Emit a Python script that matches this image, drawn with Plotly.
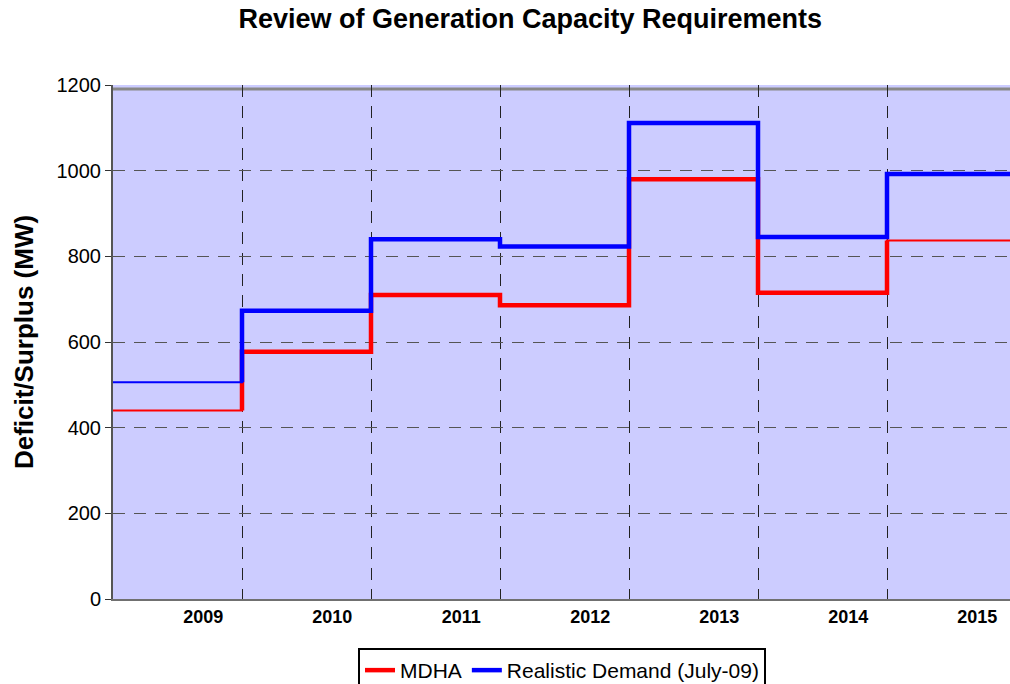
import plotly.graph_objects as go

years = ["2009", "2010", "2011", "2012", "2013", "2014", "2015"]
mdha = [440, 577, 710, 686, 980, 715, 837]
realistic = [506, 673, 840, 823, 1111, 845, 992]
y_ticks = [0, 200, 400, 600, 800, 1000, 1200]

n = len(years)
bounds = list(range(n + 1))          # category boundaries 0..n
label_pos = [i + 0.7 for i in range(n)]

RED = "#FF0000"
BLUE = "#0000FF"
FONT = "Arial, Liberation Sans, sans-serif"

fig = go.Figure()

# thin full step traces
fig.add_trace(go.Scatter(x=bounds, y=mdha + [mdha[-1]], mode="lines", line_shape="hv",
                         line=dict(color=RED, width=2), showlegend=False, hoverinfo="skip"))
# thick part of MDHA (2010-2014 plus transitions)
fig.add_trace(go.Scatter(x=bounds[1:n] + [bounds[n - 1]], y=mdha, mode="lines", line_shape="vh",
                         line=dict(color=RED, width=4.5), name="MDHA"))
fig.add_trace(go.Scatter(x=bounds, y=realistic + [realistic[-1]], mode="lines", line_shape="hv",
                         line=dict(color=BLUE, width=2), showlegend=False, hoverinfo="skip"))
fig.add_trace(go.Scatter(x=bounds[1:], y=realistic, mode="lines", line_shape="vh",
                         line=dict(color=BLUE, width=4.5), name="Realistic Demand (July-09)"))

W, H = 1010, 684
L, R, T, B = 113, 0, 85, 85
plot_w = W - L - R
x_max = plot_w / 129.0   # plot area runs past the right edge, as in the reference

fig.update_layout(
    width=W, height=H,
    margin=dict(l=L, r=R, t=T, b=B, autoexpand=False),
    paper_bgcolor="white",
    plot_bgcolor="#CCCCFF",
    font=dict(family=FONT, color="black"),
    title=dict(text="<b>Review of Generation Capacity Requirements</b>",
               x=0.525, xanchor="center", y=0.973, yanchor="middle",
               font=dict(size=27, color="black")),
    showlegend=True,
    legend=dict(orientation="h", x=449 / plot_w, xanchor="center", y=-0.0953, yanchor="top",
                bgcolor="white", bordercolor="black", borderwidth=2,
                font=dict(size=21, color="black"), itemwidth=30,
                tracegroupgap=0),
    xaxis=dict(range=[0, x_max], tickmode="array", tickvals=label_pos,
               ticktext=["<b>%s</b>" % y for y in years],
               ticks="", showgrid=False, zeroline=False, automargin=False,
               tickfont=dict(size=18, color="black", family=FONT),
               showline=True, linecolor="#707070", linewidth=2, mirror=False,
               minor=dict(tickmode="linear", tick0=0, dtick=1, showgrid=True,
                          gridcolor="#222222", griddash="12px,9px", gridwidth=1, ticks="")),
    yaxis=dict(range=[0, 1200], tickmode="array", tickvals=y_ticks,
               ticks="outside", ticklen=6, tickcolor="#333333",
               showgrid=True, gridcolor="#555555", griddash="12px,9px", gridwidth=1.2,
               zeroline=False, showline=True, linecolor="#555555", linewidth=2,
               automargin=False,
               tickfont=dict(size=20, color="black"),
               title=dict(text="<b>Deficit/Surplus (MW)</b>", font=dict(size=26, color="black"),
                          standoff=15)),
    shapes=[dict(type="line", xref="paper", yref="paper", x0=0, x1=1, y0=0.992, y1=0.992,
                 line=dict(color="#888888", width=3), layer="below")],
)

fig.write_html("out.html",
               config={"displayModeBar": False},
               post_script="document.body.style.margin='0';document.body.style.overflow='hidden';")
